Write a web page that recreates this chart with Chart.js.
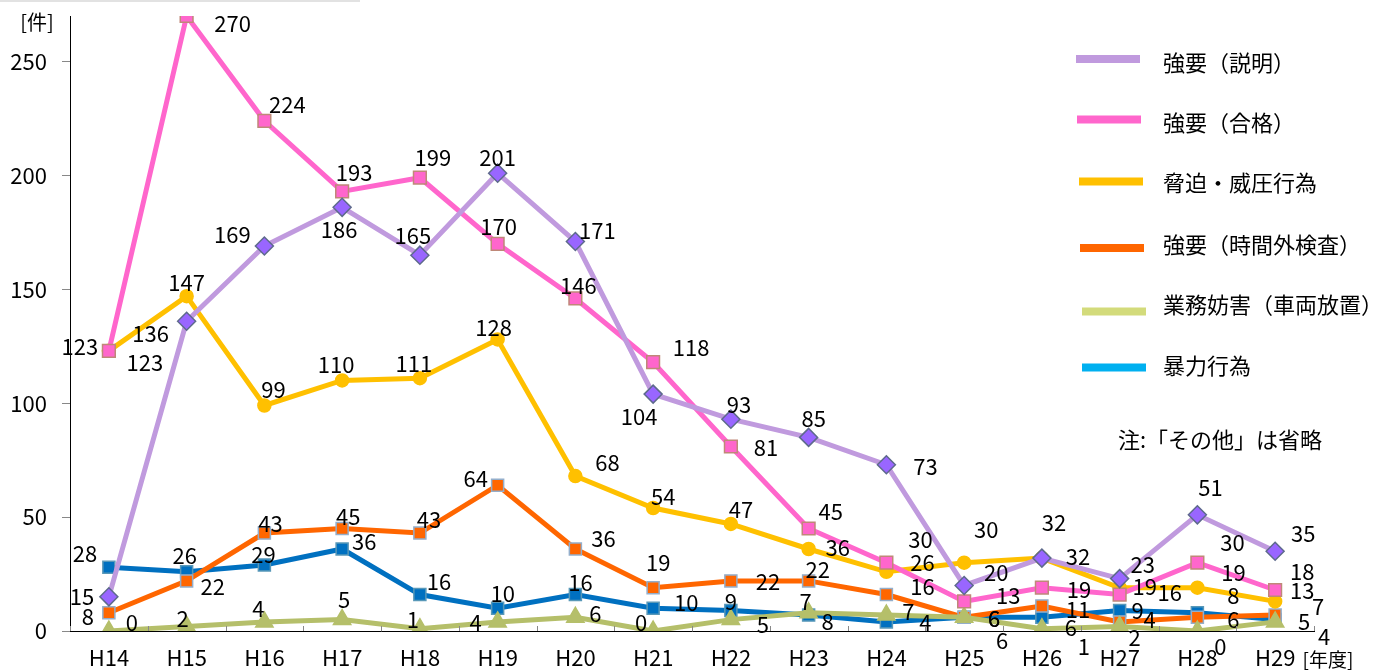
<!DOCTYPE html>
<html>
<head>
<meta charset="utf-8">
<script src="https://cdn.jsdelivr.net/npm/chart.js@4.4.1/dist/chart.umd.min.js"></script>
<style>
  html, body { margin: 0; padding: 0; background: #fff; }
  #wrap { position: relative; width: 1375px; height: 672px; }
  #topline { position: absolute; left: 0; top: 0; width: 360px; height: 2px; background: #e2e2e2; }
</style>
</head>
<body>
<div id="wrap">
  <canvas id="c" width="1375" height="672"></canvas>
  <div id="topline"></div>
</div>
<script>
// ---- data ----
const years = ['H14','H15','H16','H17','H18','H19','H20','H21','H22','H23','H24','H25','H26','H27','H28','H29'];
const seriesNames = ['強要（説明）','強要（合格）','脅迫・威圧行為','強要（時間外検査）','業務妨害（車両放置）','暴力行為'];
const explainVals  = [15,136,169,186,165,201,171,104,93,85,73,20,32,23,51,35];
const passVals     = [123,270,224,193,199,170,146,118,81,45,30,13,19,16,30,18];
const threatVals   = [123,147,99,110,111,128,68,54,47,36,26,30,32,19,19,13];
const overtimeVals = [8,22,43,45,43,64,36,19,22,22,16,6,11,4,6,7];
const obstructVals = [0,2,4,5,1,4,6,0,5,8,7,6,1,2,0,4];
const violenceVals = [28,26,29,36,16,10,16,10,9,7,4,6,6,9,8,5];
const yTickValues  = [0,50,100,150,200,250];
const yMax = 270;

// ---- label offsets (pixels, relative to each point) ----
const explainOff  = [[-27,0],[-36,12],[-32,-11],[-3,22],[-7,-20],[0,-16],[22,-11],[-14,23],[8,-15],[5,-19],[39,2],[32,-13],[36,-1],[23,-14],[13,-27],[28,-18]];
const passOff     = [[-29,-4],[46,8],[23,-16],[12,-19],[13,-20],[1,-17],[3,-13],[38,-15],[35,1],[22,-17],[34,-23],[44,-6],[37,2],[50,-2],[35,-20],[27,-18]];
const threatOff   = [[36,12],[0,-14],[9,-16],[-6,-16],[-6,-15],[-4,-12],[32,-13],[10,-11],[10,-14],[29,-1],[36,-9],[22,-33],[12,-35],[25,-1],[36,-15],[27,-11]];
const overtimeOff = [[-21,4],[26,6],[6,-9],[6,-12],[9,-13],[-22,-7],[28,-10],[5,-25],[37,1],[9,-11],[36,-8],[30,1],[36,4],[30,-2],[36,2],[43,-8]];
const obstructOff = [[23,-8],[-4,-8],[-6,-13],[2,-20],[-7,-9],[-22,1],[20,-4],[-12,-8],[32,5],[19,9],[22,-3],[30,1],[42,18],[15,11],[23,16],[49,15]];
const violenceOff = [[-24,-14],[-2,-16],[-1,-10],[22,-7],[19,-13],[5,-15],[5,-12],[33,-6],[0,-9],[-3,-13],[39,1],[38,23],[29,10],[18,0],[36,-17],[29,2]];

const FONT = "'Noto Sans CJK JP', 'Noto Sans', sans-serif";

function ds(label, data, line, fill, border, style, radius, order, offs) {
  return {
    label, data,
    borderColor: line, backgroundColor: line, borderWidth: 5,
    pointStyle: style, pointRadius: radius, pointHoverRadius: radius,
    pointBackgroundColor: fill, pointBorderColor: border, pointBorderWidth: 1.5,
    tension: 0, order, labelOffsets: offs
  };
}

const datasets = [
  ds(seriesNames[0], explainVals,  '#C09ADE', '#9966FF', '#5E6A8C', 'rectRot', 9, 1, explainOff),
  ds(seriesNames[1], passVals,     '#FF66CC', '#FF66CC', '#BF8878', 'rect', 9, 2, passOff),
  ds(seriesNames[2], threatVals,   '#FFC000', '#FFC000', '#FFC000', 'circle', 6.5, 4, threatOff),
  ds(seriesNames[3], overtimeVals, '#FF6600', '#FF6600', '#93AECB', 'rect', 8.5, 5, overtimeOff),
  ds(seriesNames[4], obstructVals, '#B5BF6A', '#B5BF6A', '#B5BF6A', 'triangle', 10, 3, obstructOff),
  ds(seriesNames[5], violenceVals, '#0070C0', '#0070C0', '#5898B8', 'rect', 8.5, 6, violenceOff)
];

const legendSwatch = ['#C09ADE','#FF66CC','#FFC000','#FF6600','#D3DB7B','#00B0F0'];
const legendY = [59, 119.5, 181.5, 248, 311.5, 367.5];
const legendTextY = [63, 123, 183, 245, 305, 366];
const legendX = [1076, 1077, 1079, 1080, 1082, 1082];

const labelPlugin = {
  id: 'valueLabels',
  afterDatasetsDraw(chart) {
    const ctx = chart.ctx;
    ctx.save();
    ctx.font = '22px ' + FONT;
    ctx.fillStyle = '#000';
    ctx.textAlign = 'center';
    ctx.textBaseline = 'middle';
    chart.data.datasets.forEach((d, di) => {
      const meta = chart.getDatasetMeta(di);
      meta.data.forEach((pt, i) => {
        const o = d.labelOffsets[i];
        ctx.fillText(String(d.data[i]), pt.x + o[0], pt.y + o[1]);
      });
    });
    ctx.restore();
  }
};

const decorPlugin = {
  id: 'decor',
  afterDraw(chart) {
    const ctx = chart.ctx;
    const a = chart.chartArea;
    ctx.save();
    // inner x tick marks at category boundaries
    ctx.strokeStyle = '#888';
    ctx.lineWidth = 1;
    const n = years.length;
    for (let i = 0; i <= n; i++) {
      const x = Math.round(a.left + i * (a.right - a.left) / n) + 0.5;
      ctx.beginPath();
      ctx.moveTo(x, a.bottom);
      ctx.lineTo(x, a.bottom - 5);
      ctx.stroke();
    }
    // legend
    ctx.font = '22px ' + FONT;
    ctx.textAlign = 'left';
    ctx.textBaseline = 'middle';
    ctx.fillStyle = '#000';
    for (let i = 0; i < seriesNames.length; i++) {
      ctx.fillStyle = legendSwatch[i];
      ctx.fillRect(legendX[i], legendY[i] - 4, 64, 8);
      ctx.fillStyle = '#000';
      ctx.fillText(seriesNames[i], 1163, legendTextY[i]);
    }
    // note
    ctx.fillText('注:「その他」は省略', 1118, 440);
    // axis unit labels
    ctx.font = '20px ' + FONT;
    ctx.textAlign = 'center';
    ctx.fillText('[件]', 37, 22);
    ctx.font = '19px ' + FONT;
    ctx.fillText('[年度]', 1328, 660);
    ctx.restore();
  }
};

new Chart(document.getElementById('c'), {
  type: 'line',
  data: { labels: years, datasets },
  plugins: [labelPlugin, decorPlugin],
  options: {
    responsive: false,
    animation: false,
    devicePixelRatio: 1,
    layout: { padding: { top: 16, right: 61, left: 0, bottom: 0 } },
    plugins: { legend: { display: false }, tooltip: { enabled: false } },
    scales: {
      x: {
        offset: true,
        grid: { display: true, drawOnChartArea: false, drawTicks: false },
        border: { display: true, color: '#000', width: 1 },
        ticks: { color: '#000', font: { size: 22, family: FONT }, padding: 13, maxRotation: 0, autoSkip: false },
        afterFit(s) { s.height = 41; s.paddingLeft = 0; s.paddingRight = 0; }
      },
      y: {
        min: 0, max: yMax,
        grid: { display: true, drawOnChartArea: false, drawTicks: true, tickLength: 8, tickColor: '#888' },
        border: { display: true, color: '#000', width: 1 },
        ticks: { color: '#000', font: { size: 22, family: FONT }, padding: 15, stepSize: 50 },
        afterBuildTicks(s) { s.ticks = yTickValues.map(v => ({ value: v })); },
        afterFit(s) { s.width = 70; s.paddingTop = 0; s.paddingBottom = 0; }
      }
    }
  }
});
</script>
</body>
</html>
